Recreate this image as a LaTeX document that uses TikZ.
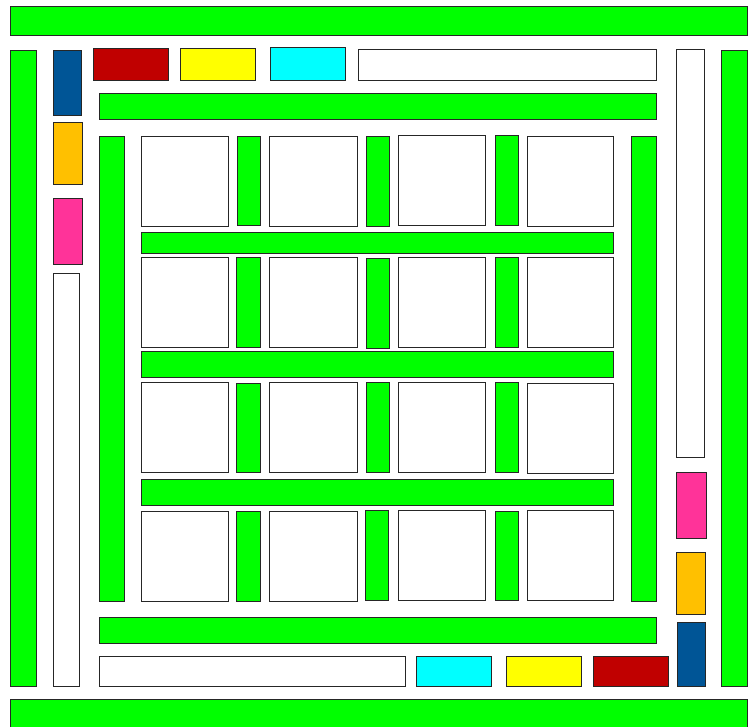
\documentclass[tikz,border=0pt]{standalone}
\definecolor{gr}{HTML}{00FF00}
\definecolor{rd}{HTML}{C00000}
\definecolor{yl}{HTML}{FFFF00}
\definecolor{cy}{HTML}{00FFFF}
\definecolor{bl}{HTML}{005596}
\definecolor{og}{HTML}{FFC000}
\definecolor{pk}{HTML}{FF3399}
\tikzset{
  bx/.style={draw=black!85, line width=0.9pt},
  G/.style={bx, fill=gr},
  W/.style={bx, fill=white},
  R/.style={bx, fill=rd},
  Y/.style={bx, fill=yl},
  C/.style={bx, fill=cy},
  B/.style={bx, fill=bl},
  O/.style={bx, fill=og},
  P/.style={bx, fill=pk}
}
\begin{document}
\begin{tikzpicture}[x=1pt,y=-1pt]
\useasboundingbox (0,0) rectangle (754,727);
% outer frame
\draw[G] (10.5,6.5) rectangle (747,35);
\draw[G] (10.5,699) rectangle (747,732);
\draw[G] (10.5,50) rectangle (36.3,686.7);
\draw[G] (721.7,50) rectangle (747,686.7);
% left column
\draw[B] (53.3,50) rectangle (81.3,115.5);
\draw[O] (53.3,122.3) rectangle (82.5,184);
\draw[P] (53,198.7) rectangle (82.5,264.3);
\draw[W] (53.3,273.7) rectangle (79.5,686.7);
% top row
\draw[R] (93.3,48.7) rectangle (168.3,80);
\draw[Y] (180,48.7) rectangle (255.3,80);
\draw[C] (270,47.3) rectangle (345,80);
\draw[W] (358.3,49) rectangle (656.7,80.3);
% right column
\draw[W] (676.3,49.3) rectangle (704.7,457);
\draw[P] (676.3,472.3) rectangle (706,538.3);
\draw[O] (676,552.3) rectangle (705.7,614.3);
\draw[B] (677.3,622) rectangle (705.7,686.3);
% bottom row
\draw[W] (99.3,656.7) rectangle (405,686);
\draw[C] (416.3,656.3) rectangle (491.3,686.3);
\draw[Y] (506,656.3) rectangle (581,686.3);
\draw[R] (593,656.3) rectangle (668,686.3);
% inner frame
\draw[G] (99.3,93) rectangle (656.7,119);
\draw[G] (99.3,617.7) rectangle (656.7,643.3);
\draw[G] (99.5,136.3) rectangle (124.7,601.7);
\draw[G] (631.3,136.3) rectangle (656.7,601.7);
% horizontal bars in grid
\draw[G] (141,232.3) rectangle (613.7,253.3);
\draw[G] (141,351.5) rectangle (613.7,377.3);
\draw[G] (141,479.7) rectangle (613.7,505.3);
% row 1
\draw[W] (141,136) rectangle (228,226);
\draw[G] (237,136) rectangle (260.3,225.3);
\draw[W] (269.5,136) rectangle (357.3,226);
\draw[G] (366,136.3) rectangle (389,226.3);
\draw[W] (398.3,135.3) rectangle (485.7,225.3);
\draw[G] (495,135.7) rectangle (518.3,225.3);
\draw[W] (527,136.3) rectangle (613.3,226.3);
% row 2
\draw[W] (141.5,257) rectangle (228.3,347);
\draw[G] (236.7,257) rectangle (260.3,347);
\draw[W] (269.5,257) rectangle (357.3,347);
\draw[G] (366,258.3) rectangle (389,348.3);
\draw[W] (398.3,257) rectangle (485.7,347);
\draw[G] (495,257) rectangle (518.3,347);
\draw[W] (527,257) rectangle (613.3,347);
% row 3
\draw[W] (141,382.3) rectangle (228,472.3);
\draw[G] (236.7,383) rectangle (260.3,472.3);
\draw[W] (269.5,382.3) rectangle (357.3,472.3);
\draw[G] (366,382.3) rectangle (389,472.3);
\draw[W] (398.3,382.7) rectangle (485.7,472.3);
\draw[G] (495,382.7) rectangle (518.3,472.3);
\draw[W] (527,383.3) rectangle (613.7,473.3);
% row 4
\draw[W] (141,511.7) rectangle (228,601.3);
\draw[G] (236.7,511.7) rectangle (260.3,601.3);
\draw[W] (269.5,511.7) rectangle (357.3,601.3);
\draw[G] (365.5,510.7) rectangle (388.5,600.3);
\draw[W] (398.3,510.7) rectangle (485.7,600);
\draw[G] (495,511) rectangle (518.3,600);
\draw[W] (527,510.7) rectangle (613.7,600.3);
\end{tikzpicture}
\end{document}
